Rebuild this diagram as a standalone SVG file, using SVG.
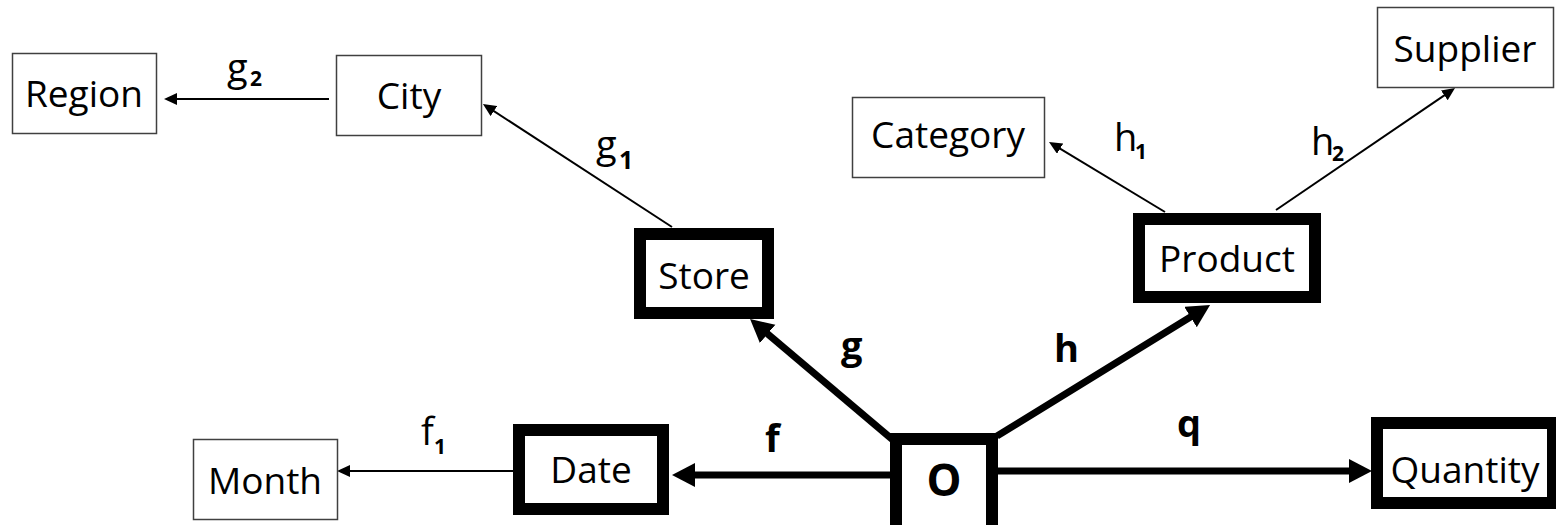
<svg xmlns="http://www.w3.org/2000/svg" width="1556" height="525" viewBox="0 0 1556 525">
<style>
text{font-family:"Open Sans","Noto Sans","Liberation Sans",sans-serif;fill:#000}
.lbl{font-size:37px;text-anchor:middle}
.thin{fill:#fff;stroke:#404040;stroke-width:1.5}
.thick{fill:#fff;stroke:#000;stroke-width:12}
.e{font-size:38px}
.b{font-weight:bold}
.sub{font-size:21px;font-weight:bold}
.tl{stroke:#000;stroke-width:2;fill:none;marker-end:url(#aS)}
.kl{stroke:#000;stroke-width:7;fill:none;marker-end:url(#aL)}
</style>
<defs>
<marker id="aS" markerUnits="userSpaceOnUse" markerWidth="14" markerHeight="13" refX="4" refY="6" orient="auto"><path d="M0,0 L13,6 L0,12 z" fill="#000"/></marker>
<marker id="aL" markerUnits="userSpaceOnUse" markerWidth="24" markerHeight="25" refX="10" refY="12" orient="auto"><path d="M0,0 L23,12 L0,24 z" fill="#000"/></marker>
</defs>
<rect width="1556" height="525" fill="#fff"/>
<g id="connectors">
<line class="tl" x1="329" y1="99" x2="173" y2="99"/>
<line class="tl" x1="672" y1="227" x2="490.5" y2="108.9"/>
<line class="tl" x1="1165" y1="212" x2="1056.7" y2="146.6"/>
<line class="tl" x1="1276" y1="210" x2="1447.6" y2="93.1"/>
<line class="tl" x1="513" y1="471" x2="346" y2="471"/>
<line class="kl" x1="893" y1="440" x2="760" y2="327.4"/>
<line class="kl" x1="997" y1="436" x2="1199" y2="311.8"/>
<line class="kl" x1="890" y1="475" x2="685" y2="475"/>
<line class="kl" x1="998" y1="471" x2="1359" y2="471"/>
<text class="e" x="227" y="81">g<tspan class="sub" x="250" y="86">2</tspan></text>
<text class="e" x="596" y="158">g<tspan class="sub" style="font-size:25px" x="619" y="169">1</tspan></text>
<text class="e" x="1114" y="151">h<tspan class="sub" x="1135" y="159">1</tspan></text>
<text class="e" x="1311" y="155">h<tspan class="sub" x="1332" y="161">2</tspan></text>
<text class="e" x="421" y="445">f<tspan class="sub" x="434" y="454">1</tspan></text>
<text class="e b" x="841" y="359">g</text>
<text class="e b" x="765" y="452">f</text>
<text class="e b" x="1054" y="362">h</text>
<text class="e b" x="1177" y="437">q</text>
</g>
<g id="region"><rect class="thin" x="12.5" y="53.5" width="144" height="80"/><text class="lbl" x="84" y="107">Region</text></g>
<g id="city"><rect class="thin" x="336.5" y="55.5" width="145" height="80"/><text class="lbl" x="409" y="109">City</text></g>
<g id="category"><rect class="thin" x="852.5" y="97.5" width="192" height="80"/><text class="lbl" x="948" y="148">Category</text></g>
<g id="supplier"><rect class="thin" x="1377.5" y="7.5" width="176" height="80"/><text class="lbl" x="1465" y="62">Supplier</text></g>
<g id="month"><rect class="thin" x="193.5" y="439.5" width="144" height="80"/><text class="lbl" x="265" y="494">Month</text></g>
<g id="store"><rect class="thick" x="640" y="234" width="128" height="79"/><text class="lbl" x="704" y="289">Store</text></g>
<g id="product"><rect class="thick" x="1139" y="219" width="176" height="78"/><text class="lbl" x="1227" y="272">Product</text></g>
<g id="date"><rect class="thick" x="519" y="430" width="144" height="79"/><text class="lbl" x="591" y="483">Date</text></g>
<g id="quantity"><rect class="thick" x="1377" y="423" width="176" height="80"/><text class="lbl" x="1465" y="483">Quantity</text></g>
<g id="o"><rect class="thick" x="896" y="439" width="96" height="100"/><text class="lbl b" style="font-size:44px" x="944" y="496">O</text></g>
</svg>
